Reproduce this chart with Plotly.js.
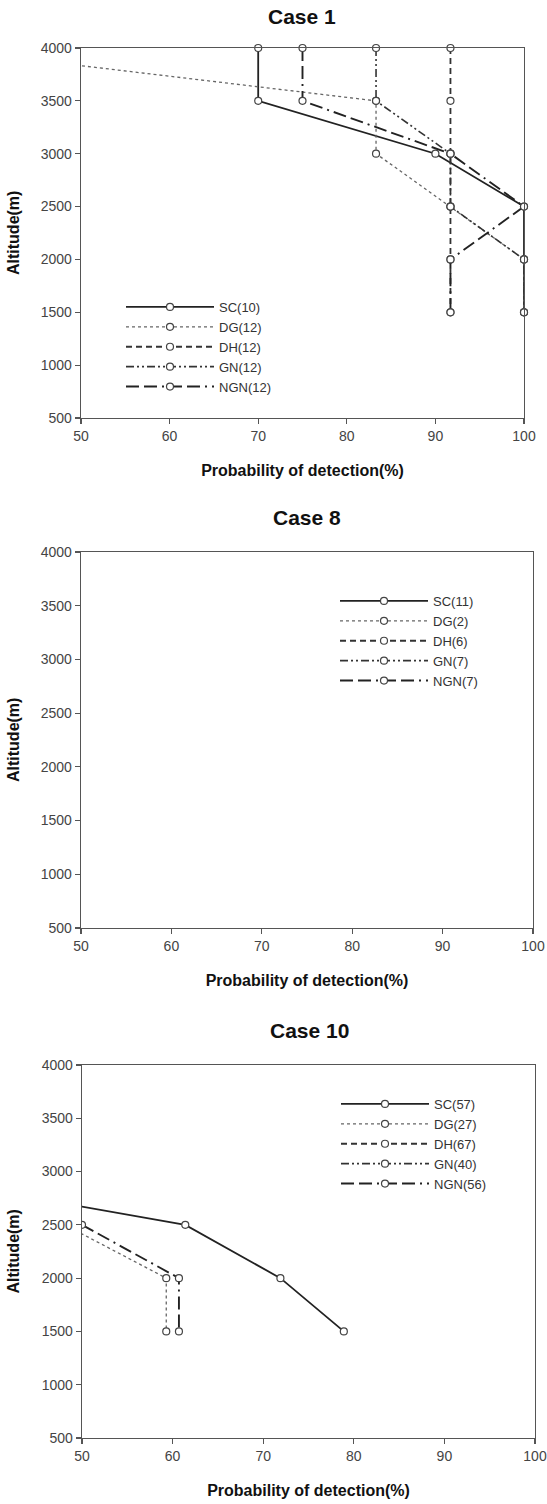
<!DOCTYPE html>
<html>
<head>
<meta charset="utf-8">
<script src="https://cdn.plot.ly/plotly-3.0.1.min.js"></script>
<style>html,body{margin:0;padding:0;background:#fff;}#chart{width:547px;height:1504px;}</style>
</head>
<body>
<div id="chart"></div>
<script>
// ---------- data ----------
const seriesNames = ["SC", "DG", "DH", "GN", "NGN"];
const caseTitles = ["Case 1", "Case 8", "Case 10"];
const xTitle = "Probability of detection(%)";
const yTitle = "Altitude(m)";

// Case 1 (altitude in m, probability of detection in %)
const case1Alt = [4000, 3500, 3000, 2500, 2000, 1500];
const case1SC  = [70, 70, 90, 100, 100, 100];
const case1DG  = [33.3, 83.3, 83.3, 91.7, 100, 100];
const case1DH  = [91.7, 91.7, 91.7, 91.7, 91.7, 91.7];
const case1GN  = [83.3, 83.3, 91.7, 91.7, 100, 100];
const case1NGN = [75, 75, 91.7, 100, 91.7, 91.7];
const case1Counts = [10, 12, 12, 12, 12];

// Case 8 (no points in visible range)
const case8Counts = [11, 2, 6, 7, 7];

// Case 10
const case10SCAlt  = [3000, 2500, 2000, 1500];
const case10SC     = [28.1, 61.4, 71.9, 78.9];
const case10DGAlt  = [2500, 2000, 1500];
const case10DG     = [48.1, 59.3, 59.3];
const case10NGNAlt = [2500, 2000, 1500];
const case10NGN    = [50, 60.7, 60.7];
const case10Counts = [57, 27, 67, 40, 56];

// ---------- styles ----------
const lineStyles = {
  SC:  {dash: "solid", width: 1.8, color: "#222"},
  DG:  {dash: "dot", width: 1.3, color: "#666"},
  DH:  {dash: "6px,4px", width: 1.8, color: "#333"},
  GN:  {dash: "8px,3px,2px,3px,2px,3px", width: 1.6, color: "#333"},
  NGN: {dash: "13px,5px,13px,5px,2px,5px", width: 1.9, color: "#222"}
};
const markerStyle = {symbol: "circle", size: 7, color: "#fff", line: {color: "#444", width: 1.2}};

function tr(name, count, xs, ys, axisIdx, legendId, clip) {
  const sfx = axisIdx === 1 ? "" : String(axisIdx);
  return {
    type: "scatter", mode: "lines+markers",
    name: name + "(" + count + ")",
    x: xs, y: ys,
    xaxis: "x" + sfx, yaxis: "y" + sfx,
    legend: legendId,
    line: Object.assign({}, lineStyles[name]),
    marker: markerStyle,
    cliponaxis: clip,
    showlegend: true,
    hoverinfo: "skip"
  };
}

const traces = [];
const c1 = [case1SC, case1DG, case1DH, case1GN, case1NGN];
seriesNames.forEach((n, i) => traces.push(tr(n, case1Counts[i], c1[i], case1Alt, 1, "legend", false)));
seriesNames.forEach((n, i) => traces.push(tr(n, case8Counts[i], [null], [null], 2, "legend2", false)));
const c10x = {SC: case10SC, DG: case10DG, DH: [null], GN: [null], NGN: case10NGN};
const c10y = {SC: case10SCAlt, DG: case10DGAlt, DH: [null], GN: [null], NGN: case10NGNAlt};
seriesNames.forEach((n, i) => traces.push(tr(n, case10Counts[i], c10x[n], c10y[n], 3, "legend3", n !== "DG")));

// ---------- layout ----------
const H = 1504, W = 547;
const py = (top, bottom) => [1 - bottom / H, 1 - top / H];
const px = (l, r) => [l / W, r / W];
const FONT = "Liberation Sans, Arial, sans-serif";

const tickFont = {family: FONT, size: 14, color: "#444"};
const titleFont = {family: FONT, size: 16, color: "#111", weight: "bold"};

function xa(domain, anchor) {
  return {
    domain: domain, anchor: anchor, range: [50, 100], tickmode: "linear", tick0: 50, dtick: 10,
    showline: true, linecolor: "#555", linewidth: 1.3, mirror: true,
    ticks: "outside", ticklen: 5, tickcolor: "#555", tickwidth: 1.2,
    showgrid: false, zeroline: false, tickfont: tickFont,
    title: {text: xTitle, font: titleFont, standoff: 21}
  };
}
function ya(domain, anchor) {
  return {
    domain: domain, anchor: anchor, range: [500, 4000], tickmode: "linear", tick0: 500, dtick: 500,
    showline: true, linecolor: "#555", linewidth: 1.3, mirror: true,
    ticks: "outside", ticklen: 5, tickcolor: "#555", tickwidth: 1.2,
    showgrid: false, zeroline: false, tickfont: tickFont
  };
}
const legendBase = {
  xanchor: "left", yanchor: "top", bgcolor: "rgba(0,0,0,0)", borderwidth: 0,
  font: {family: FONT, size: 13, color: "#333"},
  itemwidth: 88, tracegroupgap: 0
};

const plotsY = [[48, 418], [552, 928], [1065, 1438]];
const annotations = caseTitles.map((t, i) => ({
  text: t, xref: "paper", yref: "paper", showarrow: false,
  x: [302, 307, 309][i] / W, y: 1 - [17, 517, 1030][i] / H,
  xanchor: "center", yanchor: "middle",
  font: {family: FONT, size: 21, color: "#111", weight: "bold"}
}));
plotsY.forEach(([t, b]) => annotations.push({
  text: yTitle, xref: "paper", yref: "paper", showarrow: false, textangle: -90,
  x: 13 / W, y: 1 - ((t + b) / 2) / H, xanchor: "center", yanchor: "middle",
  font: titleFont
}));

const layout = {
  width: W, height: H,
  margin: {l: 0, r: 0, t: 0, b: 0},
  paper_bgcolor: "#fff", plot_bgcolor: "#fff",
  showlegend: true,
  xaxis: xa(px(81, 524), "y"),
  yaxis: ya(py(plotsY[0][0], plotsY[0][1]), "x"),
  xaxis2: xa(px(81, 533), "y2"),
  yaxis2: ya(py(plotsY[1][0], plotsY[1][1]), "x2"),
  xaxis3: xa(px(82, 535), "y3"),
  yaxis3: ya(py(plotsY[2][0], plotsY[2][1]), "x3"),
  legend: Object.assign({}, legendBase, {x: 121 / W, y: 1 - 292 / H}),
  legend2: Object.assign({}, legendBase, {x: 335 / W, y: 1 - 586 / H}),
  legend3: Object.assign({}, legendBase, {x: 336 / W, y: 1 - 1089 / H}),
  annotations: annotations
};

Plotly.newPlot("chart", traces, layout, {displayModeBar: false, staticPlot: true});
</script>
</body>
</html>
